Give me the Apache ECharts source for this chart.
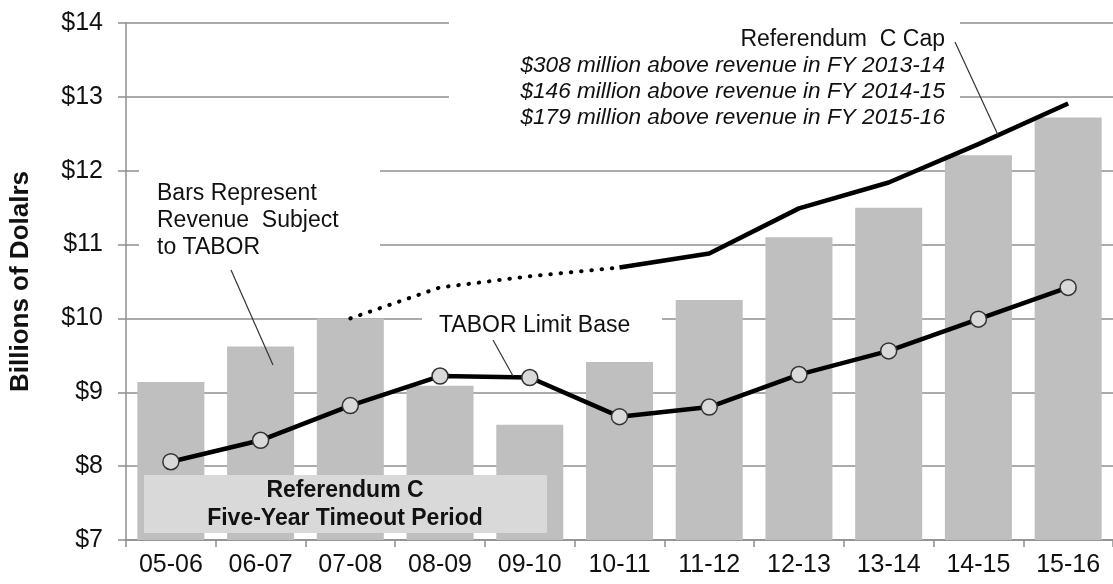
<!DOCTYPE html>
<html>
<head>
<meta charset="utf-8">
<script src="https://cdn.jsdelivr.net/npm/echarts@6/dist/echarts.min.js"></script>
<style>
  html, body { margin: 0; padding: 0; background: #fff; }
  #plot { width: 1113px; height: 584px; }
</style>
</head>
<body>
<div id="plot"></div>
<script>
// Fiscal years on the x axis
const fiscalYears = ["05-06", "06-07", "07-08", "08-09", "09-10", "10-11", "11-12", "12-13", "13-14", "14-15", "15-16"];

// Revenue subject to TABOR (bars), billions
const revenue = [9.14, 9.62, 10.0, 9.09, 8.56, 9.41, 10.25, 11.10, 11.50, 12.21, 12.72];

// TABOR limit base (line with markers), billions
const taborLimit = [8.06, 8.35, 8.82, 9.22, 9.20, 8.67, 8.80, 9.24, 9.56, 9.99, 10.42];

// Referendum C cap: dotted during the timeout, solid after
const capTimeout = [null, null, 10.0, 10.42, 10.57, 10.69, null, null, null, null, null];
const capAfter = [null, null, null, null, null, 10.69, 10.88, 11.49, 11.84, 12.36, 12.91];

// Y axis ticks
const yTicks = [7, 8, 9, 10, 11, 12, 13, 14];

const FONT = "Arial, 'Liberation Sans', sans-serif";
const GRID_GREY = "#8f8f8f";

const plotElement = document.getElementById("plot");
const chart = echarts.init(plotElement);

const option = {
    animation: false,
    textStyle: { fontFamily: FONT, color: "#111" },

    // GRID
    grid: { left: 124, top: 23, width: 994, height: 517 },

    // XAXIS
    xAxis: {
        type: "category",
        data: fiscalYears,
        boundaryGap: true,
        axisLine: { lineStyle: { color: GRID_GREY, width: 1.5 } },
        axisTick: { show: true, interval: 0, length: 7, lineStyle: { color: GRID_GREY, width: 1.5 } },
        axisLabel: { interval: 0, fontSize: 25, color: "#111", margin: 13, fontFamily: FONT }
    },

    // YAXIS
    yAxis: {
        type: "value",
        min: yTicks[0],
        max: yTicks[yTicks.length - 1],
        interval: 1,
        name: "Billions of Dolalrs",
        nameLocation: "middle",
        nameGap: 92,
        nameTextStyle: { fontSize: 26, fontWeight: "bold", color: "#111", fontFamily: FONT },
        axisLine: { show: true, lineStyle: { color: GRID_GREY, width: 1.5 } },
        axisTick: { show: true, length: 8, lineStyle: { color: GRID_GREY, width: 1.5 } },
        axisLabel: { fontSize: 25, color: "#111", margin: 23, fontFamily: FONT, formatter: v => "$" + v },
        splitLine: { show: true, lineStyle: { color: GRID_GREY, width: 1.5 } }
    },

    // SERIES
    series: [
        {
            name: "Revenue Subject to TABOR",
            type: "bar",
            data: revenue,
            barWidth: 67,
            itemStyle: { color: "#bfbfbf" },
            z: 2
        },
        {
            name: "Referendum C Cap (timeout)",
            type: "line",
            data: capTimeout,
            symbol: "none",
            lineStyle: { color: "#000", width: 4, type: [0.5, 9.8], cap: "round" },
            z: 3
        },
        {
            name: "Referendum C Cap",
            type: "line",
            data: capAfter,
            symbol: "none",
            lineStyle: { color: "#000", width: 4.5 },
            z: 3
        },
        {
            name: "TABOR Limit Base",
            type: "line",
            data: taborLimit,
            symbol: "circle",
            symbolSize: 16,
            itemStyle: { color: "#d9d9d9", borderColor: "#333", borderWidth: 1.5 },
            lineStyle: { color: "#000", width: 4.5 },
            z: 4
        }
    ],

    // ANNOTATIONS
    graphic: [
        // white backing boxes that hide gridlines behind the notes
        { type: "rect", z: 1, shape: { x: 139, y: 160, width: 241, height: 104 }, style: { fill: "#fff" } },
        { type: "rect", z: 1, shape: { x: 422, y: 305, width: 240, height: 36 }, style: { fill: "#fff" } },
        { type: "rect", z: 1, shape: { x: 449, y: 12, width: 511, height: 120 }, style: { fill: "#fff" } },

        // bars note
        {
            type: "text", z: 10,
            style: { x: 157, y: 180, text: "Bars Represent\nRevenue  Subject\nto TABOR", fontSize: 23, lineHeight: 27, fontFamily: FONT, fill: "#111" }
        },
        { type: "line", z: 10, shape: { x1: 231, y1: 270, x2: 273, y2: 365 }, style: { stroke: "#333", lineWidth: 1.2 } },

        // TABOR limit note
        {
            type: "text", z: 10,
            style: { x: 439, y: 312, text: "TABOR Limit Base", fontSize: 23, lineHeight: 27, fontFamily: FONT, fill: "#111" }
        },
        { type: "line", z: 10, shape: { x1: 493, y1: 340, x2: 513, y2: 376 }, style: { stroke: "#333", lineWidth: 1.2 } },

        // Referendum C cap note
        {
            type: "text", z: 10,
            style: { x: 945, y: 27, text: "Referendum  C Cap", textAlign: "right", fontSize: 23, lineHeight: 26, fontFamily: FONT, fill: "#111" }
        },
        {
            type: "text", z: 10,
            style: {
                x: 945, y: 53, textAlign: "right", fontStyle: "italic", fontSize: 22.6, lineHeight: 26, fontFamily: FONT, fill: "#111",
                text: "$308 million above revenue in FY 2013-14\n$146 million above revenue in FY 2014-15\n$179 million above revenue in FY 2015-16"
            }
        },
        { type: "line", z: 10, shape: { x1: 955, y1: 42, x2: 998, y2: 135 }, style: { stroke: "#333", lineWidth: 1.2 } },

        // timeout period box
        { type: "rect", z: 20, shape: { x: 144, y: 475, width: 403, height: 58 }, style: { fill: "#d9d9d9" } },
        {
            type: "text", z: 21,
            style: {
                x: 345, y: 477, textAlign: "center", text: "Referendum C\nFive-Year Timeout Period",
                fontSize: 23, fontWeight: "bold", lineHeight: 28, fontFamily: FONT, fill: "#111"
            }
        }
    ]
};

chart.setOption(option);
</script>
</body>
</html>
